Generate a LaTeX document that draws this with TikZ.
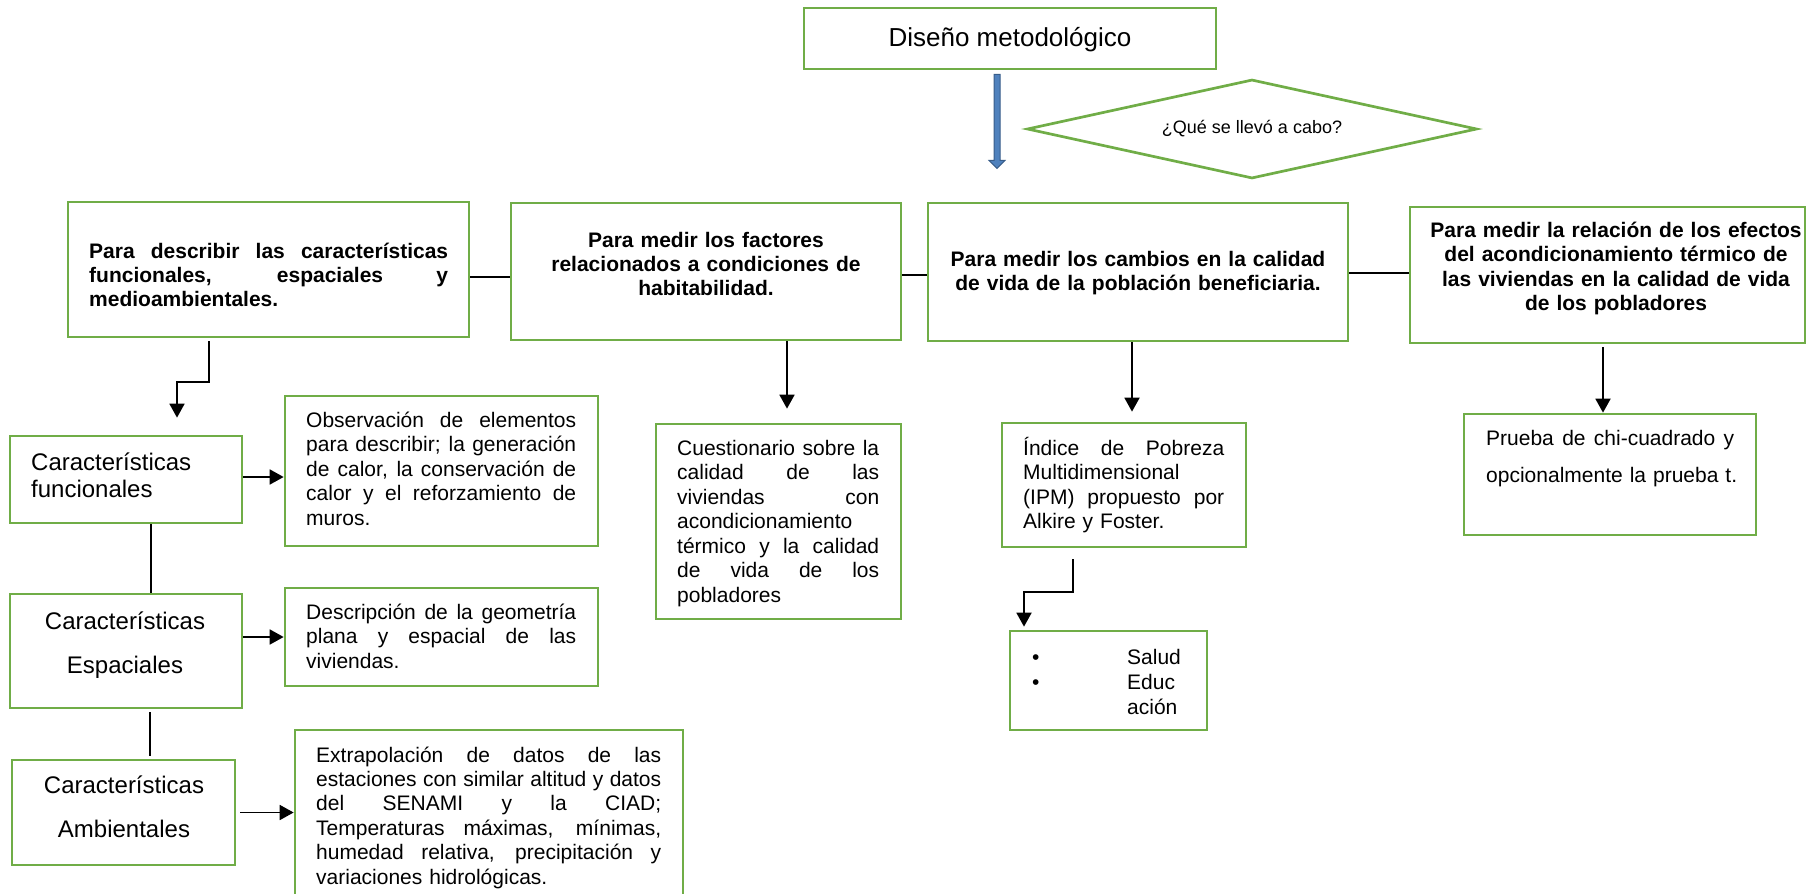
\documentclass[tikz,border=0pt]{standalone}
\usepackage{fontspec}
\setmainfont{Liberation Sans}
\usetikzlibrary{arrows.meta,shapes.geometric,fit}
\definecolor{boxgreen}{HTML}{70AD47}
\definecolor{arrowblue}{HTML}{4F81BD}
\definecolor{arrowdark}{HTML}{385D8A}
\newcommand{\jl}[2]{{\spaceskip=0pt\xspaceskip=0pt\makebox[#1pt][s]{#2}}}
\begin{document}
\begin{tikzpicture}[x=1pt,y=-1pt,
  box/.style={draw=boxgreen, line width=2.7pt, inner sep=0pt},
  conn/.style={draw=black, line width=1.8pt},
  arr/.style={conn, -{Triangle[width=15pt,length=14pt]}},
  tl/.style={inner sep=0pt, anchor=base west, align=left},
  tc/.style={inner sep=0pt, anchor=base, align=center},
  bold/.style={font=\fontsize{21}{24}\selectfont\bfseries},
  reg/.style={font=\fontsize{21}{24.5}\selectfont}
]
\useasboundingbox (0,0) rectangle (1807,894);
\clip (0,0) rectangle (1807,894);

% boxes
\node[box, fit={(804,8) (1216,69)}] (dis) {};
\node[box, diamond, aspect=4.5, minimum width=450pt, minimum height=99pt,
      font=\fontsize{18}{20}\selectfont] (q) at (1252,129) {¿Qué se llevó a cabo?};
\node[box, fit={(68,202) (469,337)}] (b1) {};
\node[box, fit={(511,203) (901,340)}] (b2) {};
\node[box, fit={(928,203) (1348,341)}] (b3) {};
\node[box, fit={(1410,207) (1805,343)}] (b4) {};
\node[box, fit={(10,436) (242,523)}] (fu) {};
\node[box, fit={(10,594) (242,708)}] (es) {};
\node[box, fit={(12,760) (235,865)}] (am) {};
\node[box, fit={(285,396) (598,546)}] (ob) {};
\node[box, fit={(285,588) (598,686)}] (de) {};
\node[box, fit={(295,730) (683,905)}] (ex) {};
\node[box, fit={(656,424) (901,619)}] (cu) {};
\node[box, fit={(1002,423) (1246,547)}] (in) {};
\node[box, fit={(1010,631) (1207,730)}] (sa) {};
\node[box, fit={(1464,414) (1756,535)}] (pr) {};

% texts
\node[tc, font=\fontsize{26}{30}\selectfont] (tdis) at (1010,46) {Diseño metodológico};
\node[tl, bold, text width=365pt] (t1) at (89,258)
  {\jl{359}{Para describir las características}\\ \jl{359}{funcionales, espaciales y}\\ medioambientales.};
\node[tc, bold, text width=400pt] (t2) at (706,247)
  {Para medir los factores\\ relacionados a condiciones de\\ habitabilidad.};
\node[tc, bold, text width=400pt] (t3) at (1138,266)
  {Para medir los cambios en la calidad\\ de vida de la población beneficiaria.};
\node[tc, font=\fontsize{21}{24.5}\selectfont\bfseries, text width=390pt] (t4) at (1616,237)
  {Para medir la relación de los efectos\\ del acondicionamiento térmico de\\ las viviendas en la calidad de vida\\ de los pobladores};
\node[tl, font=\fontsize{24}{27}\selectfont, text width=200pt] (tfu) at (31,470)
  {Características\\ funcionales};
\node[tc, font=\fontsize{24}{44}\selectfont, text width=220pt] (tes) at (125,629)
  {Características\\ Espaciales};
\node[tc, font=\fontsize{24}{44}\selectfont, text width=220pt] (tam) at (124,793)
  {Características\\ Ambientales};
\node[tl, reg, text width=280pt] (tob) at (306,427)
  {\jl{270}{Observación de elementos}\\ \jl{270}{para describir; la generación}\\ \jl{270}{de calor, la conservación de}\\ \jl{270}{calor y el reforzamiento de}\\ muros.};
\node[tl, reg, text width=280pt] (tde) at (306,619)
  {\jl{270}{Descripción de la geometría}\\ \jl{270}{plana y espacial de las}\\ viviendas.};
\node[tl, font=\fontsize{21}{24.4}\selectfont, text width=355pt] (tex) at (316,762)
  {\jl{345}{Extrapolación de datos de las}\\ \jl{345}{estaciones con similar altitud y datos}\\ \jl{345}{del SENAMI y la CIAD;}\\ \jl{345}{Temperaturas máximas, mínimas,}\\ \jl{345}{humedad relativa, precipitación y}\\ variaciones hidrológicas.};
\node[tl, reg, text width=210pt] (tcu) at (677,455)
  {\jl{202}{Cuestionario sobre la}\\ \jl{202}{calidad de las}\\ \jl{202}{viviendas con}\\ acondicionamiento\\ \jl{202}{térmico y la calidad}\\ \jl{202}{de vida de los}\\ pobladores};
\node[tl, reg, text width=210pt] (tin) at (1023,455)
  {\jl{201}{Índice de Pobreza}\\ Multidimensional\\ \jl{201}{(IPM) propuesto por}\\ Alkire y Foster.};
\node[tl, font=\fontsize{21}{25}\selectfont, text width=180pt] (tsa) at (1032,664)
  {\makebox[95pt][l]{\textbullet}Salud\\ \makebox[95pt][l]{\textbullet}Educ\\ \hspace*{95pt}ación};
\node[tl, font=\fontsize{21}{37}\selectfont, text width=265pt] (tpr) at (1486,445)
  {\jl{248}{Prueba de chi-cuadrado y}\\ opcionalmente la prueba t.};

% blue arrow
\draw[fill=arrowblue, draw=arrowdark, line width=1pt]
  ([xshift=-16pt, yshift=-4pt]dis.south) -- ++(6,0) -- ++(0,86) -- ++(5,0)
  -- ++(-8,8) -- ++(-8,-8) -- ++(5,0) -- cycle;

% connectors top row
\draw[conn] ([yshift=-7.5pt]b1.east) -- ([yshift=-7.5pt]b1.east -| b2.west);
\draw[conn] ([yshift=-3.5pt]b2.east) -- ([yshift=-3.5pt]b2.east -| b3.west);
\draw[conn] ([yshift=-1pt]b3.east) -- ([yshift=-1pt]b3.east -| b4.west);

% left column
\coordinate (e1) at (209,382);
\coordinate (e2) at (177,382);
\draw[arr, shorten <=3pt, shorten >=17pt] (b1.south -| e1) -- (e1) -- (e2) -- (e2 |- fu.north);
\draw[arr] ([yshift=2.5pt]fu.east) -- ([yshift=2.5pt]fu.east -| ob.west);
\draw[conn] ([xshift=25pt]fu.south) -- ([xshift=25pt]fu.south |- es.north);
\draw[arr] (de.west -| es.east) -- (de.west);
\draw[conn, shorten <=3pt, shorten >=3pt] ([xshift=24pt]es.south) -- ([xshift=24pt]es.south |- am.north);
\draw[arr, shorten <=4pt] (am.east) -- (am.east -| ex.west);

% middle and right
\draw[arr, shorten >=14pt] ([xshift=8.5pt]cu.north |- b2.south) -- ([xshift=8.5pt]cu.north);
\draw[arr, shorten >=10pt] ([xshift=8pt]in.north |- b3.south) -- ([xshift=8pt]in.north);
\coordinate (e3) at (1073,592);
\coordinate (e4) at (1024,592);
\draw[arr, shorten <=11pt, shorten >=3pt] (in.south -| e3) -- (e3) -- (e4) -- (e4 |- sa.north);
\draw[arr, shorten <=3pt] ([xshift=-7pt]pr.north |- b4.south) -- ([xshift=-7pt]pr.north);
\end{tikzpicture}
\end{document}
